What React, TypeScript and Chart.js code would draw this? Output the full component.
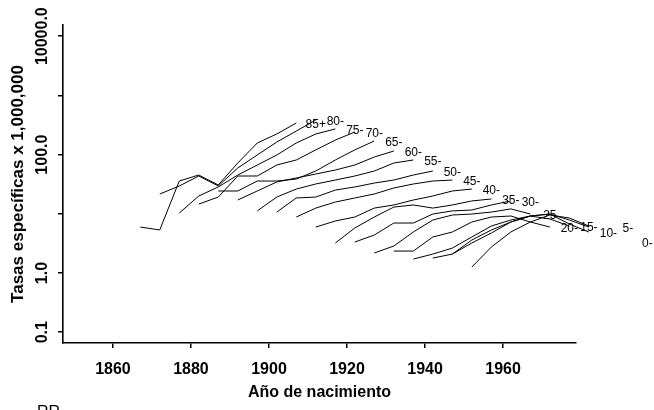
import React, { useEffect, useRef } from "react";
import { Chart, registerables } from "chart.js";

Chart.register(...registerables);

// Age groups (lower bound of 5-year age band)
const ageLabels = ["0-", "5-", "10-", "15-", "20-", "25", "30-", "35-", "40-", "45-", "50-", "55-", "60-", "65-", "70-", "75-", "80-", "85+"];
const ageStart = [0, 5, 10, 15, 20, 25, 30, 35, 40, 45, 50, 55, 60, 65, 70, 75, 80, 85];
// Calendar periods (start year); cohort = period - age
const periods = [1952, 1957, 1962, 1967, 1972, 1977, 1982, 1987, 1992];

// Specific rates x 1,000,000 by age group, one value per period
const r0 = [1.26, 2.75, 4.93, 7.27, 9.54, 8.49, 6.22, 4.06, 3.34];
const r5 = [2.09, 3.21, 4.74, 7.27, 9.18, 9.92, 7.86, 5.98, 5.98];
const r10 = [1.79, 2.09, 3.61, 5.33, 7.27, 9.18, 9.92, 6.72, 4.93];
const r15 = [1.72, 2.09, 2.64, 4.06, 6.22, 7.86, 9.18, 8.17, 6.22];
const r20 = [2.35, 2.35, 4.06, 4.93, 7.27, 8.83, 9.18, 7.27, 5.98];
const r25 = [2.18, 2.86, 4.93, 7.86, 9.54, 9.92, 10.7, 12.1, 9.92];
const r30 = [3.34, 4.38, 6.99, 6.99, 9.92, 11.2, 11.6, 14.1, 16.5];
const r35 = [3.21, 5.76, 8.83, 13.0, 14.1, 12.5, 14.1, 16.5, 17.8];
const r40 = [5.98, 7.56, 8.83, 12.5, 14.1, 17.1, 20.0, 24.3, 26.2];
const r45 = [8.83, 12.5, 15.8, 18.5, 21.6, 27.3, 31.9, 35.8, 37.2];
const r50 = [10.7, 18.5, 19.2, 25.2, 28.4, 33.1, 37.2, 45.2, 52.8];
const r55 = [11.2, 19.2, 26.2, 31.9, 37.2, 43.5, 52.8, 72.1, 81.1];
const r60 = [17.1, 24.3, 34.5, 40.3, 47.0, 54.9, 66.7, 91.1, 115];
const r65 = [24.3, 24.3, 35.8, 35.8, 38.7, 52.8, 81.1, 120, 170];
const r70 = [14.6, 19.2, 43.5, 43.5, 66.7, 81.1, 120, 176, 241];
const r75 = [10.3, 20.0, 28.4, 45.2, 66.7, 98.5, 157, 223, 271];
const r80 = [21.6, 29.5, 43.5, 29.5, 59.4, 98.5, 163, 250, 384];
const r85 = [5.98, 5.33, 35.8, 45.2, 30.7, 72.1, 157, 223, 342];
const rateSeries = [r0, r5, r10, r15, r20, r25, r30, r35, r40, r45, r50, r55, r60, r65, r70, r75, r80, r85];

// Axis ticks
const xTicks = [1860, 1880, 1900, 1920, 1940, 1960];
const yTicks = [0.1, 1, 10, 100, 1000, 10000];
const yTickLabels = ["0.1", "1.0", "", "100.0", "", "10000.0"];

const xTitle = "Año de nacimiento";
const yTitle = "Tasas específicas x 1,000,000";
const cornerNote = "RR";

const FONT = "'Liberation Sans', Arial, Helvetica, sans-serif";

export default function App() {
  const ref = useRef<HTMLCanvasElement | null>(null);

  useEffect(() => {
    const canvas = ref.current;
    if (!canvas) return;

    const textPlugin = {
      id: "rText",
      afterDraw(chart: any) {
        const ctx = chart.ctx;
        const xs = chart.scales.x;
        const ys = chart.scales.y;
        const area = chart.chartArea;
        ctx.save();
        ctx.fillStyle = "#000";
        ctx.font = `bold 16px ${FONT}`;
        ctx.textAlign = "center";
        ctx.textBaseline = "middle";
        yTicks.forEach((v, i) => {
          const lab = yTickLabels[i];
          if (!lab) return;
          const py = ys.getPixelForValue(v);
          ctx.save();
          ctx.translate(43, py);
          ctx.rotate(-Math.PI / 2);
          ctx.fillText(lab, 0, 0);
          ctx.restore();
        });
        xTicks.forEach((v) => {
          ctx.fillText(String(v), xs.getPixelForValue(v), 370);
        });
        ctx.fillText(xTitle, (area.left + area.right) / 2, 393);
        ctx.font = `bold 17px ${FONT}`;
        ctx.save();
        ctx.translate(18, (area.top + area.bottom) / 2);
        ctx.rotate(-Math.PI / 2);
        ctx.fillText(yTitle, 0, 0);
        ctx.restore();
        ctx.font = `12px ${FONT}`;
        rateSeries.forEach((s, i) => {
          const lastC = periods[periods.length - 1] - ageStart[i] + 5;
          const px = xs.getPixelForValue(lastC);
          const py = ys.getPixelForValue(s[s.length - 1]);
          ctx.fillText(ageLabels[i], px, py + 2);
        });
        ctx.font = `16px ${FONT}`;
        ctx.textAlign = "left";
        ctx.textBaseline = "alphabetic";
        ctx.fillText(cornerNote, 37, 417);
        ctx.restore();
      },
    };

    const datasets = rateSeries.map((s, i) => ({
      label: ageLabels[i],
      data: periods.map((p, k) => ({ x: p - ageStart[i], y: s[k] })),
      borderColor: "#000",
      backgroundColor: "#000",
      borderWidth: 1,
      pointRadius: 0,
      fill: false,
      tension: 0,
      clip: false as any,
    }));

    const chart = new Chart(canvas, {
      type: "line",
      data: { datasets },
      options: {
        responsive: false,
        animation: false,
        layout: { padding: { left: 0, top: 25, right: 78, bottom: 0 } },
        plugins: { legend: { display: false }, tooltip: { enabled: false } },
        scales: {
          x: {
            type: "linear",
            min: 1847.2,
            max: 1978.7,
            afterBuildTicks: (s: any) => {
              s.ticks = xTicks.map((v) => ({ value: v }));
            },
            afterFit: (s: any) => {
              s.height = 67;
            },
            grid: { display: true, drawOnChartArea: false, drawTicks: true, tickLength: 5, color: "#000", lineWidth: 1.5 },
            border: { display: true, color: "#000", width: 1.6 },
            ticks: { display: false },
          },
          y: {
            type: "logarithmic",
            min: 0.0658,
            max: 15450,
            afterBuildTicks: (s: any) => {
              s.ticks = yTicks.map((v) => ({ value: v }));
            },
            afterFit: (s: any) => {
              s.width = 63;
            },
            grid: { display: true, drawOnChartArea: false, drawTicks: true, tickLength: 5, color: "#000", lineWidth: 1.5 },
            border: { display: true, color: "#000", width: 1.6 },
            ticks: { display: false },
          },
        },
      },
      plugins: [textPlugin],
    });

    return () => chart.destroy();
  }, []);

  return (
    <div style={{ position: "fixed", left: 0, top: 0, width: 654, height: 410, background: "#fff" }}>
      <canvas ref={ref} width={654} height={410} style={{ width: 654, height: 410, display: "block" }} />
    </div>
  );
}
